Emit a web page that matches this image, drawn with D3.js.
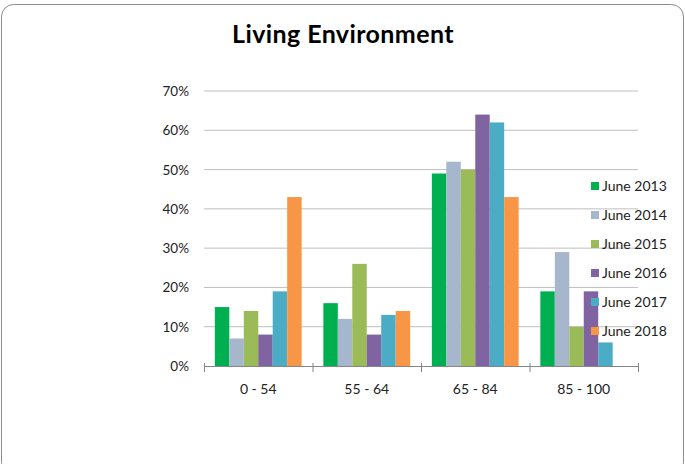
<!DOCTYPE html>
<html>
<head>
<meta charset="utf-8">
<script src="https://cdn.jsdelivr.net/npm/d3@7"></script>
<style>
  body { margin: 0; background: #fff; }
  text { font-family: Lato, "Open Sans", sans-serif; }
</style>
</head>
<body>
<svg width="685" height="464"></svg>
<script>
let width = 685, height = 464;

// data
var categories = ["0 - 54", "55 - 64", "65 - 84", "85 - 100"];
var series = ["June 2013", "June 2014", "June 2015", "June 2016", "June 2017", "June 2018"];
var june2013 = [15, 16, 49, 19];
var june2014 = [7, 12, 52, 29];
var june2015 = [14, 26, 50, 10];
var june2016 = [8, 8, 64, 19];
var june2017 = [19, 13, 62, 6];
var june2018 = [43, 14, 43, 0];
var yTicks = [0, 10, 20, 30, 40, 50, 60, 70];
var colors = ["#00B050", "#A6B6CD", "#9BBB59", "#8064A2", "#4BACC6", "#F79646"];

var values = [june2013, june2014, june2015, june2016, june2017, june2018];

let svg = d3.select("svg");

// chart frame
svg.append("rect")
    .attr("x", 1.5).attr("y", 4.5)
    .attr("width", 682).attr("height", 470)
    .attr("rx", 12)
    .attr("fill", "#fff")
    .attr("stroke", "#8c8c8c")
    .attr("stroke-width", 1);

svg.append("text")
    .attr("x", 343).attr("y", 43)
    .attr("text-anchor", "middle")
    .attr("font-size", 25)
    .attr("font-weight", "bold")
    .attr("letter-spacing", 0.4)
    .attr("fill", "#000")
    .text("Living Environment");

let plotLeft = 204, plotRight = 638, plotTop = 91, plotBottom = 366;

var x = d3.scaleBand().domain(categories).range([plotLeft, plotRight]).paddingInner(0.2).paddingOuter(0.1);
var xs = d3.scaleBand().domain(series).range([0, x.bandwidth()]);
var y = d3.scaleLinear().domain([0, 70]).range([plotBottom, plotTop]);

// gridlines
svg.append("g")
    .selectAll("line")
    .data(yTicks.filter(d => d > 0))
    .enter()
    .append("line")
    .attr("x1", plotLeft).attr("x2", plotRight)
    .attr("y1", d => y(d)).attr("y2", d => y(d))
    .attr("stroke", "#bfbfbf")
    .attr("stroke-width", 1);

// y labels
svg.append("g")
    .selectAll("text")
    .data(yTicks)
    .enter()
    .append("text")
    .attr("x", 189)
    .attr("y", d => y(d) + 5)
    .attr("text-anchor", "end")
    .attr("font-size", 13.5)
    .attr("fill", "#222")
    .text(d => d + "%");

// bars
svg.append("g")
    .selectAll("g")
    .data(series)
    .enter()
    .append("g")
    .attr("fill", (d, i) => colors[i])
    .selectAll("rect")
    .data((s, i) => categories.map((c, j) => ({ c: c, s: s, v: values[i][j] })))
    .enter()
    .append("rect")
    .attr("x", d => x(d.c) + xs(d.s))
    .attr("y", d => y(d.v))
    .attr("width", xs.bandwidth())
    .attr("height", d => plotBottom - y(d.v));

// x axis
var tickPos = d3.range(categories.length + 1).map(i => plotLeft + i * (plotRight - plotLeft) / categories.length);
svg.append("line")
    .attr("x1", plotLeft).attr("x2", plotRight)
    .attr("y1", plotBottom + 0.5).attr("y2", plotBottom + 0.5)
    .attr("stroke", "#868686");
svg.append("g")
    .selectAll("line")
    .data(tickPos)
    .enter()
    .append("line")
    .attr("x1", d => d + 0.5).attr("x2", d => d + 0.5)
    .attr("y1", plotBottom - 3).attr("y2", plotBottom + 6)
    .attr("stroke", "#868686");

svg.append("g")
    .selectAll("text")
    .data(categories)
    .enter()
    .append("text")
    .attr("x", d => x(d) + x.bandwidth() / 2)
    .attr("y", plotBottom + 28)
    .attr("text-anchor", "middle")
    .attr("font-size", 14)
    .attr("fill", "#222")
    .text(d => d);

// legend
var legend = svg.append("g")
    .selectAll("g")
    .data(series)
    .enter()
    .append("g")
    .attr("transform", (d, i) => "translate(591," + (182 + i * 29) + ")");
legend.append("rect")
    .attr("width", 8).attr("height", 8)
    .attr("fill", (d, i) => colors[i]);
legend.append("text")
    .attr("x", 11).attr("y", 9)
    .attr("font-size", 14)
    .attr("fill", "#222")
    .text(d => d);
</script>
</body>
</html>
